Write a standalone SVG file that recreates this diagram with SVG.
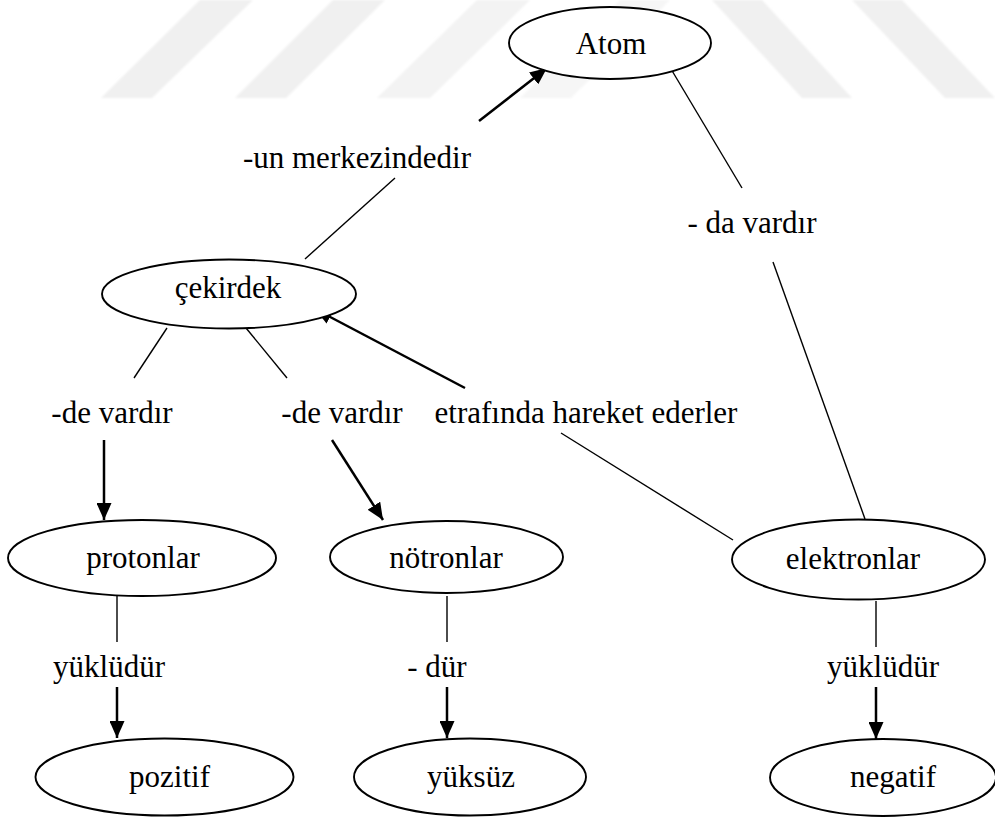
<svg xmlns="http://www.w3.org/2000/svg" width="995" height="817" viewBox="0 0 995 817">
<style>
.node ellipse{fill:#fff;stroke:#000;stroke-width:1.9}
.lbl{font-size:31px;fill:#000;text-anchor:middle}
.thin{stroke:#000;stroke-width:1.4;fill:none}
.thick{stroke:#000;stroke-width:2.5;fill:none;marker-end:url(#ah)}
.wm{fill:#f0f0f0}
</style>
<defs>
<marker id="ah" viewBox="0 0 17 15" refX="17" refY="7.5" markerWidth="17" markerHeight="15" markerUnits="userSpaceOnUse" orient="auto">
<path d="M0,0 L17,7.5 L0,15 Z" fill="#000"/>
</marker>
<filter id="soft" x="-10%" y="-10%" width="120%" height="120%"><feGaussianBlur stdDeviation="1.2"/></filter>
</defs>
<rect width="995" height="817" fill="#fff"/>
<g id="watermark" filter="url(#soft)">
<polygon class="wm" points="101,98 152,98 253,0 200,0"/>
<polygon class="wm" points="235,98 286,98 385,0 333,0"/>
<polygon class="wm" points="377,98 430,98 530,0 477,0" style="fill:#f3f3f3"/>
<polygon class="wm" points="520,98 571,98 670,0 620,0" style="fill:#f6f6f6"/>
<polygon class="wm" points="712,0 762,0 852,98 802,98"/>
<polygon class="wm" points="852,0 902,0 995,98 945,98"/>
</g>
<g font-family="'Liberation Serif', 'Times New Roman', 'DejaVu Serif', serif">
<g id="connectors">
<line class="thin" x1="305" y1="259" x2="395" y2="178"/>
<line class="thick" x1="479" y1="121" x2="547" y2="68"/>
<line class="thin" x1="671" y1="69" x2="742" y2="188"/>
<line class="thin" x1="773" y1="262" x2="865" y2="519"/>
<line class="thin" x1="167" y1="328" x2="134" y2="378"/>
<line class="thin" x1="246" y1="328" x2="287" y2="378"/>
<line class="thick" x1="465" y1="388" x2="315" y2="309"/>
<line class="thin" x1="561" y1="433" x2="733" y2="540"/>
<line class="thick" x1="104" y1="440" x2="104" y2="520"/>
<line class="thick" x1="332" y1="440" x2="383" y2="520"/>
<line class="thin" x1="117" y1="596" x2="117" y2="642"/>
<line class="thick" x1="117" y1="687" x2="117" y2="738"/>
<line class="thin" x1="447" y1="596" x2="447" y2="642"/>
<line class="thick" x1="447" y1="687" x2="447" y2="738"/>
<line class="thin" x1="876" y1="601" x2="876" y2="647"/>
<line class="thick" x1="876" y1="687" x2="876" y2="739"/>
<text class="lbl" x="357" y="168">-un merkezindedir</text>
<text class="lbl" x="752" y="233">- da vardır</text>
<text class="lbl" x="112" y="423">-de vardır</text>
<text class="lbl" x="342" y="423">-de vardır</text>
<text class="lbl" x="586" y="423">etrafında hareket ederler</text>
<text class="lbl" x="109" y="677">yüklüdür</text>
<text class="lbl" x="437" y="677">- dür</text>
<text class="lbl" x="883" y="677">yüklüdür</text>
</g>
<g id="atom" class="node"><ellipse cx="610" cy="43" rx="101" ry="36"/><text class="lbl" x="611" y="54">Atom</text></g>
<g id="cekirdek" class="node"><ellipse cx="229" cy="294" rx="127" ry="34.5"/><text class="lbl" x="228" y="298">çekirdek</text></g>
<g id="protonlar" class="node"><ellipse cx="142" cy="558" rx="134" ry="38"/><text class="lbl" x="143" y="568">protonlar</text></g>
<g id="notronlar" class="node"><ellipse cx="446.5" cy="557" rx="116.5" ry="36"/><text class="lbl" x="446" y="568">nötronlar</text></g>
<g id="elektronlar" class="node"><ellipse cx="858.5" cy="559.5" rx="126.5" ry="40"/><text class="lbl" x="853" y="569">elektronlar</text></g>
<g id="pozitif" class="node"><ellipse cx="164.5" cy="777" rx="129" ry="38.5"/><text class="lbl" x="169.5" y="787">pozitif</text></g>
<g id="yuksuz" class="node"><ellipse cx="470" cy="777" rx="116" ry="38.5"/><text class="lbl" x="471" y="787">yüksüz</text></g>
<g id="negatif" class="node"><ellipse cx="883" cy="777.5" rx="113" ry="38.5"/><text class="lbl" x="893" y="787">negatif</text></g>
</g>
</svg>
